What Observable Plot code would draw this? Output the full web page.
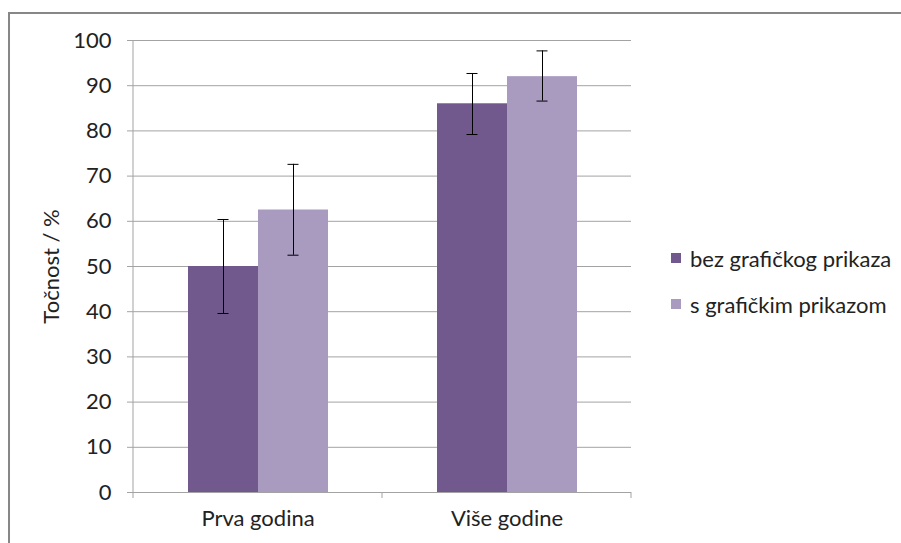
<!DOCTYPE html>
<html><head><meta charset="utf-8">
<script src="https://cdn.jsdelivr.net/npm/d3@7"></script>
<script src="https://cdn.jsdelivr.net/npm/@observablehq/plot@0.6"></script>
<style>
body{margin:0;background:#fff;font-family:Lato,"Open Sans",sans-serif;}
#wrap{position:relative;width:901px;height:543px;overflow:hidden;background:#fff;}
#frame{position:absolute;left:8px;top:12px;width:1000px;height:1000px;border-top:2px solid #878787;border-left:2px solid #878787;}
#chart{position:absolute;left:0;top:0;}
#legend{position:absolute;left:671px;top:245px;font-size:22px;color:#222;}
.item{display:flex;align-items:center;height:26px;margin-bottom:20px;white-space:nowrap;}
.sw{width:10px;height:10px;margin-right:9px;}
</style></head>
<body>
<div id="wrap"><div id="frame"></div><div id="chart"></div><div id="legend"></div></div>
<script>
const categories = ["Prva godina", "Više godine"];
const series = ["bez grafičkog prikaza", "s grafičkim prikazom"];
const bezValues = [50, 86];
const sValues = [62.5, 92];
const bezErrLow = [39.6, 79.2];
const bezErrHigh = [60.4, 92.7];
const sErrLow = [52.5, 86.6];
const sErrHigh = [72.6, 97.7];
const yTicks = [0, 10, 20, 30, 40, 50, 60, 70, 80, 90, 100];
const colors = ["#71598e", "#a99bbf"];

const rows = [];
categories.forEach((c, i) => {
  rows.push({category: c, series: series[0], value: bezValues[i], lo: bezErrLow[i], hi: bezErrHigh[i]});
  rows.push({category: c, series: series[1], value: sValues[i], lo: sErrLow[i], hi: sErrHigh[i]});
});

const chart = Plot.plot({
  width: 901, height: 543,
  marginLeft: 133, marginRight: 270, marginTop: 40, marginBottom: 51,
  fx: {domain: categories, padding: 0, label: null},
  x: {domain: series, paddingInner: 0, paddingOuter: 0.754, axis: null},
  y: {domain: [0, 100]},
  color: {domain: series, range: colors},
  style: {fontFamily: "Lato, 'Open Sans', sans-serif", fontSize: "22px", color: "#222", background: "transparent"},
  marks: [
    Plot.ruleY(yTicks, {stroke: "#a3a3a3", strokeWidth: 1}),
    Plot.barY(rows, {fx: "category", x: "series", y: "value", fill: "series"}),
    Plot.ruleX(rows, {fx: "category", x: "series", y1: "lo", y2: "hi", stroke: "#000", strokeWidth: 1}),
    Plot.tickY(rows, {fx: "category", x: "series", y: "lo", stroke: "#000", insetLeft: 29.5, insetRight: 29.5}),
    Plot.tickY(rows, {fx: "category", x: "series", y: "hi", stroke: "#000", insetLeft: 29.5, insetRight: 29.5}),
    Plot.axisY({ticks: yTicks, tickSize: 6, tickPadding: 16, stroke: "#a3a3a3", fill: "#222", strokeOpacity: 1,
      label: "Točnost / %", labelAnchor: "center", labelOffset: 90, labelArrow: "none"}),
    Plot.axisFx({anchor: "bottom", tickSize: 0, tickPadding: 18, label: null, fill: "#222"})
  ]
});
document.getElementById("chart").appendChild(chart);

// axis line and category boundary ticks (Excel style), positioned via Plot's scales
const fx = chart.scale("fx");
const y = chart.scale("y");
const svg = d3.select(chart);
const x0 = fx.apply(categories[0]);
const bounds = categories.map(c => fx.apply(c)).concat([fx.apply(categories[categories.length - 1]) + fx.bandwidth]);
svg.append("line").attr("x1", x0).attr("x2", x0).attr("y1", y.apply(0)).attr("y2", y.apply(100))
  .attr("stroke", "#a3a3a3");
svg.selectAll("line.bt").data(bounds).join("line").attr("class", "bt")
  .attr("x1", d => d).attr("x2", d => d).attr("y1", y.apply(0)).attr("y2", y.apply(0) + 6)
  .attr("stroke", "#a3a3a3");

const legend = d3.select("#legend");
series.forEach((s, i) => {
  const it = legend.append("div").attr("class", "item");
  it.append("div").attr("class", "sw").style("background", colors[i]);
  it.append("span").text(s);
});
</script>
</body></html>
